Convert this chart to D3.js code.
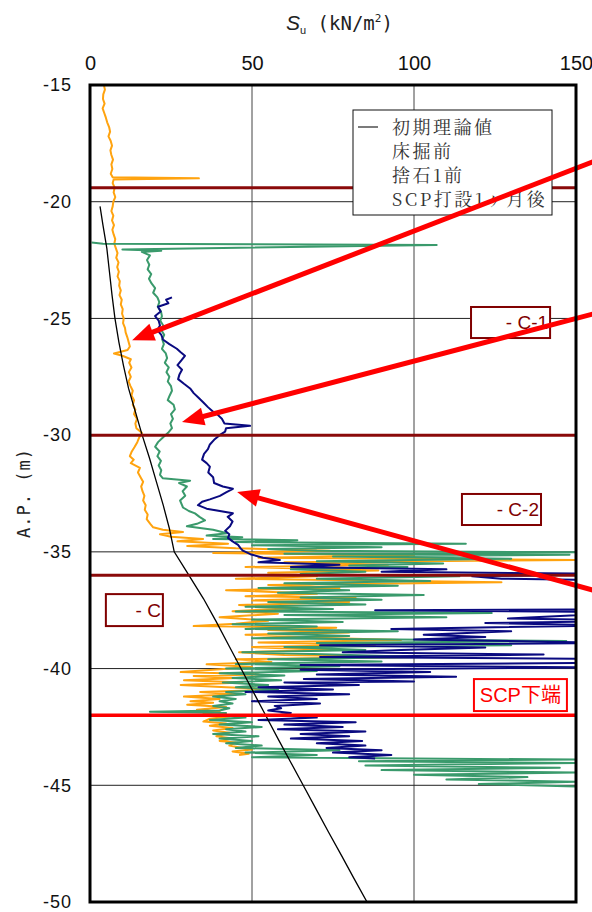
<!DOCTYPE html>
<html>
<head>
<meta charset="utf-8">
<script src="https://cdn.jsdelivr.net/npm/d3@7"></script>
<style>
  body { margin: 0; background: #fff; }
  svg { display: block; }
</style>
</head>
<body>
<svg id="chart"></svg>
<script>
// axis ticks
const xTicks = [0, 50, 100, 150];
const yTicks = [-15, -20, -25, -30, -35, -40, -45, -50];

// layer boundaries (A.P. m)
const layerBounds = [-19.4, -30, -36];
const scpBottom = -42;
const layerNames = ["- C-1", "- C-2", "- C", "SCP下端"];

// legend
const legendNames = ["初期理論値", "床掘前", "捨石1前", "SCP打設1ヶ月後"];

// [A.P. (m), Su (kN/m2)]
const theoryLine = [[-20.2,3.1],[-21,4.0],[-22,5.2],[-23,6.0],[-24,6.8],[-25,7.7],[-26,8.9],[-27,10.3],
  [-28,11.9],[-29,14.0],[-30,16.1],[-31,18.4],[-32,20.5],[-33,22.6],[-34,24.5],[-35,26.0],[-36,30.5],
  [-37,35.0],[-38,39.0],[-39,42.8],[-40,46.6],[-41,50.4],[-42,54.2],[-43,58.0],[-44,61.9],[-45,65.8],
  [-46,69.7],[-47,73.6],[-48,77.6],[-49,81.5],[-50,85.5]];

// 床掘前
const suBeforeDig = [[-15.0,4.3],[-15.2,4.6],[-15.4,4.1],[-15.6,4.0],[-15.8,4.5],[-16.0,3.9],[-16.2,4.4],
  [-16.4,4.9],[-16.6,5.3],[-16.8,5.9],[-17.0,6.2],[-17.2,5.7],[-17.4,6.4],[-17.6,6.8],[-17.8,6.3],[-18.0,6.6],
  [-18.2,7.1],[-18.4,6.6],[-18.6,6.9],[-18.8,6.4],[-18.95,7.0],[-19.0,33.6],[-19.05,7.3],[-19.2,7.0],
  [-19.4,7.6],[-19.6,7.3],[-19.8,7.8],[-20.0,7.2],[-20.2,7.0],[-20.4,6.6],[-20.6,7.2],[-20.8,6.8],[-21.0,7.4],
  [-21.2,6.9],[-21.4,7.3],[-21.6,7.8],[-21.8,7.5],[-22.0,8.0],[-22.2,8.5],[-22.4,8.1],[-22.6,8.8],[-22.8,8.4],
  [-23.0,8.9],[-23.2,8.5],[-23.4,9.2],[-23.6,9.0],[-23.8,9.5],[-24.0,9.1],[-24.2,9.8],[-24.4,9.5],[-24.6,10.1],
  [-24.8,9.9],[-25.0,10.4],[-25.2,10.2],[-25.4,10.8],[-25.6,11.0],[-25.8,11.5],[-26.0,11.9],[-26.2,12.3],
  [-26.35,11.6],[-26.5,7.4],[-26.6,10.0],[-26.75,12.6],[-26.9,12.1],[-27.1,12.8],[-27.3,12.0],[-27.5,12.6],
  [-27.7,11.9],[-27.9,12.5],[-28.1,13.2],[-28.3,12.8],[-28.5,13.6],[-28.7,13.2],[-28.9,14.0],[-29.1,13.6],
  [-29.3,14.5],[-29.5,14.0],[-29.7,14.3],[-29.9,16.0],[-30.1,15.2],[-30.3,14.6],[-30.5,13.8],[-30.7,12.9],
  [-30.9,12.3],[-31.05,13.5],[-31.2,12.6],[-31.4,15.4],[-31.6,14.8],[-31.8,15.6],[-32.0,16.4],[-32.2,15.8],
  [-32.4,16.2],[-32.6,16.8],[-32.8,16.4],[-33.0,17.2],[-33.2,16.9],[-33.4,17.8],[-33.6,17.5],[-33.8,18.6],
  [-33.95,19.5],[-34.05,22.5],[-34.15,28.7],[-34.25,21.6],[-34.35,25.0],[-34.45,34.9],[-34.55,27],
  [-34.65,42.6],[-34.75,30],[-34.85,45],[-34.95,74],[-35.05,38],[-35.15,100],[-35.25,52],[-35.35,150],
  [-35.45,60],[-35.55,92],[-35.65,48],[-35.8,89],[-35.9,55],[-36.05,70],[-36.15,45],[-36.3,127],[-36.42,55],
  [-36.55,77],[-36.64,42],[-36.8,70],[-36.9,48],[-36.98,82],[-37.08,50],[-37.15,80],[-37.28,46],[-37.4,64],
  [-37.54,44],[-37.65,58],[-37.8,40],[-37.95,55],[-38.08,45],[-38.18,32],[-38.25,76],[-38.35,55],[-38.45,80],
  [-38.55,48],[-38.68,70],[-38.78,96],[-38.88,52],[-38.98,88],[-39.08,50],[-39.2,75],[-39.3,46],[-39.42,60],
  [-39.5,101],[-39.6,45],[-39.72,56],[-39.82,36],[-39.93,50],[-40.05,38],[-40.15,28],[-40.25,52],[-40.32,32],
  [-40.4,45],[-40.5,29],[-40.6,47],[-40.7,28],[-40.8,42],[-40.9,58],[-41.0,34],[-41.1,45],[-41.2,29],
  [-41.3,40],[-41.4,31],[-41.46,38],[-41.55,30],[-41.65,42],[-41.76,33],[-41.85,40],[-41.95,35],[-42.05,43],
  [-42.15,37],[-42.27,35],[-42.35,42],[-42.45,37],[-42.55,44],[-42.65,38],[-42.75,43],[-42.9,39],[-43.0,44],
  [-43.1,40],[-43.17,45],[-43.3,43],[-43.4,47],[-43.47,50],[-43.55,44],[-43.65,49],[-43.7,46]];

// 捨石1前
const suBeforeRubble = [[-21.75,0.5],[-21.8,4],[-21.85,107],[-22.05,10],[-22.1,22],[-22.15,16],[-22.3,18.5],
  [-22.5,17.6],[-22.7,18.3],[-22.9,17.8],[-23.1,18.9],[-23.3,18.2],[-23.5,19.0],[-23.7,20.1],[-23.9,19.5],
  [-24.1,20.8],[-24.3,21.4],[-24.5,20.9],[-24.7,21.9],[-24.9,22.2],[-25.1,21.7],[-25.3,22.6],[-25.5,22.0],
  [-25.7,22.9],[-25.9,22.3],[-26.1,22.8],[-26.3,22.2],[-26.5,23.4],[-26.7,23.8],[-26.9,23.1],[-27.1,24.3],
  [-27.3,23.6],[-27.5,24.5],[-27.7,24.0],[-27.9,25.0],[-28.1,25.3],[-28.3,24.6],[-28.5,24.0],[-28.7,25.8],
  [-28.9,26.2],[-29.1,25.0],[-29.3,25.6],[-29.5,24.8],[-29.7,25.3],[-29.9,24.1],[-30.1,22.5],[-30.3,21.0],
  [-30.5,20.1],[-30.7,21.5],[-30.9,20.8],[-31.1,21.9],[-31.3,21.2],[-31.5,22.0],[-31.7,21.6],[-31.85,22.5],
  [-31.95,30.9],[-32.05,27.5],[-32.2,29.9],[-32.4,28.6],[-32.6,29.4],[-32.8,27.8],[-33.0,28.4],[-33.1,28.7],
  [-33.25,30.5],[-33.35,32.4],[-33.5,33.8],[-33.65,35.5],[-33.8,33.0],[-33.9,29.9],[-34.05,38],[-34.2,42.3],
  [-34.3,36],[-34.37,47],[-34.45,38],[-34.5,64],[-34.58,45],[-34.65,116],[-34.72,50],[-34.8,90],[-34.88,55],
  [-34.95,70],[-35.02,150],[-35.08,60],[-35.12,148],[-35.2,75],[-35.3,130],[-35.4,70],[-35.5,109],[-35.58,80],
  [-35.65,98],[-35.75,62],[-35.85,85],[-35.95,65],[-36.05,114],[-36.15,70],[-36.25,105],[-36.35,60],
  [-36.45,95],[-36.55,52],[-36.65,80],[-36.75,58],[-36.85,103],[-36.95,65],[-37.05,90],[-37.15,55],
  [-37.25,85],[-37.35,48],[-37.45,75],[-37.55,45],[-37.62,124],[-37.7,60],[-37.8,110],[-37.9,50],[-38.0,78],
  [-38.1,44],[-38.2,70],[-38.3,48],[-38.4,95],[-38.5,55],[-38.6,80],[-38.7,50],[-38.82,147],[-38.9,70],
  [-39.0,130],[-39.08,60],[-39.2,85],[-39.3,47],[-39.4,75],[-39.5,102],[-39.6,55],[-39.7,90],[-39.8,45],
  [-39.9,77],[-40.0,42],[-40.1,70],[-40.2,40],[-40.3,60],[-40.4,44],[-40.5,59],[-40.6,41],[-40.7,55],
  [-40.8,45],[-40.9,58],[-41.0,42],[-41.1,48],[-41.2,38],[-41.3,45],[-41.4,40],[-41.5,44],[-41.6,38],
  [-41.7,43],[-41.8,40],[-41.85,18.5],[-41.9,42],[-42.0,38],[-42.1,48],[-42.2,37],[-42.3,50],[-42.4,40],
  [-42.5,53],[-42.6,42],[-42.7,48],[-42.8,38],[-42.9,52],[-43.0,40],[-43.1,50],[-43.2,42],[-43.3,53],
  [-43.4,45],[-43.5,77],[-43.6,48],[-43.7,70],[-43.8,50],[-43.9,150],[-43.97,83],[-44.05,150],[-44.15,85],
  [-44.25,145],[-44.35,90],[-44.45,150],[-44.55,100],[-44.65,135],[-44.75,110],[-44.85,150],[-44.95,120],
  [-45.05,150]];

// SCP打設1ヶ月後
const suAfterScp = [[-24.1,25.3],[-24.2,23.5],[-24.35,24.2],[-24.5,21.0],[-24.7,21.8],[-24.9,20.1],[-25.1,21.2],
  [-25.3,21.6],[-25.5,20.8],[-25.7,22.0],[-25.9,22.5],[-26.1,24.5],[-26.3,26.8],[-26.45,28.0],[-26.6,29.3],
  [-26.8,28.2],[-27.0,27.0],[-27.2,28.4],[-27.4,27.6],[-27.6,27.2],[-27.8,29.0],[-28.0,30.9],[-28.2,32.0],
  [-28.4,33.5],[-28.6,35.0],[-28.8,36.4],[-29.0,38.0],[-29.1,39.2],[-29.3,40.7],[-29.5,41.5],[-29.6,49.4],
  [-29.7,42.0],[-29.85,41.7],[-30.0,40.0],[-30.2,38.3],[-30.4,37.0],[-30.6,36.4],[-30.8,35.2],[-31.05,34.6],
  [-31.2,36.0],[-31.35,37.0],[-31.6,36.5],[-31.8,38.0],[-32.05,38.3],[-32.2,41.0],[-32.3,44.1],[-32.45,42.0],
  [-32.6,40.1],[-32.75,37.0],[-32.85,34.6],[-33.0,33.3],[-33.15,36.0],[-33.35,44.1],[-33.5,42.5],[-33.7,44.0],
  [-33.9,43.2],[-34.1,41.7],[-34.25,43.0],[-34.4,42.6],[-34.55,44.0],[-34.7,45.7],[-34.85,46.5],[-34.95,47.2],
  [-35.1,49.5],[-35.25,53.4],[-35.35,58.6],[-35.45,52],[-35.55,77],[-35.65,62],[-35.75,110],[-35.85,90],
  [-35.95,165],[-36.05,118],[-36.15,127],[-36.25,180],[-36.7,190],[-37.1,175],[-37.45,185],[-37.5,88],
  [-37.58,170],[-37.85,129],[-37.95,175],[-38.05,122],[-38.15,160],[-38.3,93],[-38.4,130],[-38.55,103],
  [-38.65,122],[-38.75,100],[-38.9,160],[-39.0,71],[-39.1,122],[-39.2,96],[-39.3,78],[-39.4,140],[-39.5,71],
  [-39.6,170],[-39.75,165],[-39.85,65],[-39.95,155],[-40.05,65],[-40.15,105],[-40.25,70],[-40.35,113],
  [-40.45,66],[-40.55,100],[-40.6,60],[-40.7,83],[-40.8,52],[-40.9,75],[-41.0,48],[-41.1,80],[-41.2,55],
  [-41.3,70],[-41.4,50],[-41.5,71],[-41.6,57],[-41.7,59],[-41.8,55],[-41.9,62],[-42.0,58],[-42.1,70],
  [-42.2,52],[-42.3,82],[-42.4,60],[-42.5,78],[-42.6,58],[-42.7,85],[-42.8,65],[-42.9,80],[-43.0,62],
  [-43.1,84],[-43.2,70],[-43.3,85],[-43.4,73],[-43.5,90],[-43.6,75],[-43.7,93],[-43.8,80],[-43.85,88]];

// red arrows: [tail Su, tail A.P., tip Su, tip A.P.]
const arrows = [[157.4, -18.17, 13.0, -25.93], [157.4, -24.73, 28.4, -29.44], [157.4, -36.72, 45.4, -32.44]];

const width = 592;
const height = 912;
const plot = { left: 90, right: 576, top: 85, bottom: 902 };
const numFont = "'Liberation Sans', Arial, sans-serif";

const svg = d3.select("#chart")
  .attr("width", width)
  .attr("height", height);

const x = d3.scaleLinear().domain([0, 150]).range([plot.left, plot.right]);
const y = d3.scaleLinear().domain([-15, -50]).range([plot.top, plot.bottom]);

svg.append("defs").append("clipPath").attr("id", "plotClip")
  .append("rect")
  .attr("x", plot.left).attr("y", plot.top)
  .attr("width", plot.right - plot.left).attr("height", plot.bottom - plot.top);

// gridlines
svg.append("g").selectAll("line")
  .data(xTicks.slice(1, -1))
  .join("line")
  .attr("x1", d => x(d)).attr("x2", d => x(d))
  .attr("y1", plot.top).attr("y2", plot.bottom)
  .attr("stroke", "#444").attr("stroke-width", 1);

svg.append("g").selectAll("line")
  .data(yTicks.slice(1, -1))
  .join("line")
  .attr("x1", plot.left).attr("x2", plot.right)
  .attr("y1", d => y(d)).attr("y2", d => y(d))
  .attr("stroke", "#222").attr("stroke-width", 1);

// profiles
const line = d3.line().x(d => x(d[1])).y(d => y(d[0]));
const dataG = svg.append("g").attr("clip-path", "url(#plotClip)");

dataG.append("path").datum(suBeforeDig)
  .attr("d", line).attr("fill", "none")
  .attr("stroke", "#ffa30f").attr("stroke-width", 2).attr("stroke-linejoin", "round");

dataG.append("path").datum(suBeforeRubble)
  .attr("d", line).attr("fill", "none")
  .attr("stroke", "#3a9a6c").attr("stroke-width", 2).attr("stroke-linejoin", "round");

dataG.append("path").datum(suAfterScp)
  .attr("d", line).attr("fill", "none")
  .attr("stroke", "#0a0a80").attr("stroke-width", 2).attr("stroke-linejoin", "round");

dataG.append("path").datum(theoryLine)
  .attr("d", line).attr("fill", "none")
  .attr("stroke", "#000").attr("stroke-width", 1.3);

// layer boundary lines
svg.append("g").selectAll("line")
  .data(layerBounds)
  .join("line")
  .attr("x1", plot.left).attr("x2", plot.right)
  .attr("y1", d => y(d)).attr("y2", d => y(d))
  .attr("stroke", "#8a0a0a").attr("stroke-width", 3);

svg.append("line")
  .attr("x1", plot.left).attr("x2", plot.right)
  .attr("y1", y(scpBottom)).attr("y2", y(scpBottom))
  .attr("stroke", "#ff0000").attr("stroke-width", 3.5);

// layer name boxes  [x0, x1, y0, y1] in data units
const boxes = [
  [117.6, 142.0, -24.51, -25.84],
  [114.8, 139.2, -32.52, -33.85],
  [4.9, 22.5, -36.81, -38.18],
  [118.5, 147.2, -40.45, -41.82]
];
boxes.forEach((b, i) => {
  const col = i === 3 ? "#ff0000" : "#800000";
  svg.append("rect")
    .attr("x", x(b[0])).attr("y", y(b[2]))
    .attr("width", x(b[1]) - x(b[0])).attr("height", y(b[3]) - y(b[2]))
    .attr("fill", "#fff").attr("stroke", col).attr("stroke-width", 2);
  svg.append("text")
    .attr("x", x(b[1]) - (i === 3 ? 6 : 2))
    .attr("y", (y(b[2]) + y(b[3])) / 2)
    .attr("dy", "0.36em")
    .attr("text-anchor", "end")
    .attr("fill", col)
    .style("font-family", i === 3 ? "'Liberation Sans', 'Noto Sans CJK JP', sans-serif" : numFont)
    .style("font-size", i === 3 ? "20px" : "19px")
    .text(layerNames[i]);
});

// legend
const legend = svg.append("g");
legend.append("rect")
  .attr("x", 353).attr("y", 110).attr("width", 199).attr("height", 105)
  .attr("fill", "#fff").attr("stroke", "#111").attr("stroke-width", 1);
legend.append("line")
  .attr("x1", 358).attr("x2", 378).attr("y1", 127).attr("y2", 127)
  .attr("stroke", "#222").attr("stroke-width", 1.2);
legend.selectAll("text.leg")
  .data(legendNames)
  .join("text")
  .attr("class", "leg")
  .attr("x", 392)
  .attr("y", (d, i) => 134 + i * 24)
  .attr("fill", "#333")
  .style("font-family", "'Noto Serif CJK JP', 'Noto Sans CJK JP', serif")
  .style("font-size", "18px")
  .style("letter-spacing", "2.5px")
  .text(d => d);

// red arrows
const arrowG = svg.append("g");
arrows.forEach(a => {
  const x0 = x(a[0]), y0 = y(a[1]), x1 = x(a[2]), y1 = y(a[3]);
  const len = Math.hypot(x1 - x0, y1 - y0);
  const ux = (x1 - x0) / len, uy = (y1 - y0) / len;
  const L = 22, W = 9;
  arrowG.append("line")
    .attr("x1", x0).attr("y1", y0)
    .attr("x2", x1 - ux * (L - 4)).attr("y2", y1 - uy * (L - 4))
    .attr("stroke", "#ff0000").attr("stroke-width", 5);
  const bx = x1 - ux * L, by = y1 - uy * L;
  arrowG.append("path")
    .attr("d", `M${x1},${y1}L${bx - uy * W},${by + ux * W}L${bx + uy * W},${by - ux * W}Z`)
    .attr("fill", "#ff0000");
});

// frame
svg.append("rect")
  .attr("x", plot.left).attr("y", plot.top)
  .attr("width", plot.right - plot.left).attr("height", plot.bottom - plot.top)
  .attr("fill", "none").attr("stroke", "#000").attr("stroke-width", 3);

// axes
const xAxis = svg.append("g")
  .attr("transform", `translate(0, ${plot.top})`)
  .call(d3.axisTop(x).tickValues(xTicks).tickSize(0).tickPadding(15).tickFormat(d => String(d)));
xAxis.select(".domain").remove();
xAxis.selectAll("text")
  .style("font-family", numFont).style("font-size", "20px").attr("fill", "#111");

const yAxis = svg.append("g")
  .attr("transform", `translate(${plot.left}, 0)`)
  .call(d3.axisLeft(y).tickValues(yTicks).tickSize(0).tickPadding(18).tickFormat(d => String(d)));
yAxis.select(".domain").remove();
yAxis.selectAll("text")
  .style("font-family", numFont).style("font-size", "18px").style("letter-spacing", "1px").attr("fill", "#111");

// axis titles
const title = svg.append("text")
  .attr("x", 286).attr("y", 30)
  .attr("fill", "#222");
title.append("tspan").text("S")
  .style("font-family", numFont).style("font-style", "italic").style("font-size", "21px");
title.append("tspan").text("u").attr("dy", 4)
  .style("font-family", numFont).style("font-size", "11px");
title.append("tspan").text(" (kN/m").attr("dy", -4)
  .style("font-family", "'DejaVu Sans Mono', monospace").style("font-size", "19px");
title.append("tspan").text("2").attr("dy", -8)
  .style("font-family", "'DejaVu Sans Mono', monospace").style("font-size", "11px");
title.append("tspan").text(")").attr("dy", 8)
  .style("font-family", "'DejaVu Sans Mono', monospace").style("font-size", "19px");

svg.append("text")
  .attr("transform", "translate(30, 493) rotate(-90)")
  .attr("text-anchor", "middle")
  .attr("fill", "#222")
  .style("font-family", "'DejaVu Sans Mono', monospace")
  .style("font-size", "17px")
  .style("letter-spacing", "1px")
  .text("A.P. (m)");
</script>
</body>
</html>
